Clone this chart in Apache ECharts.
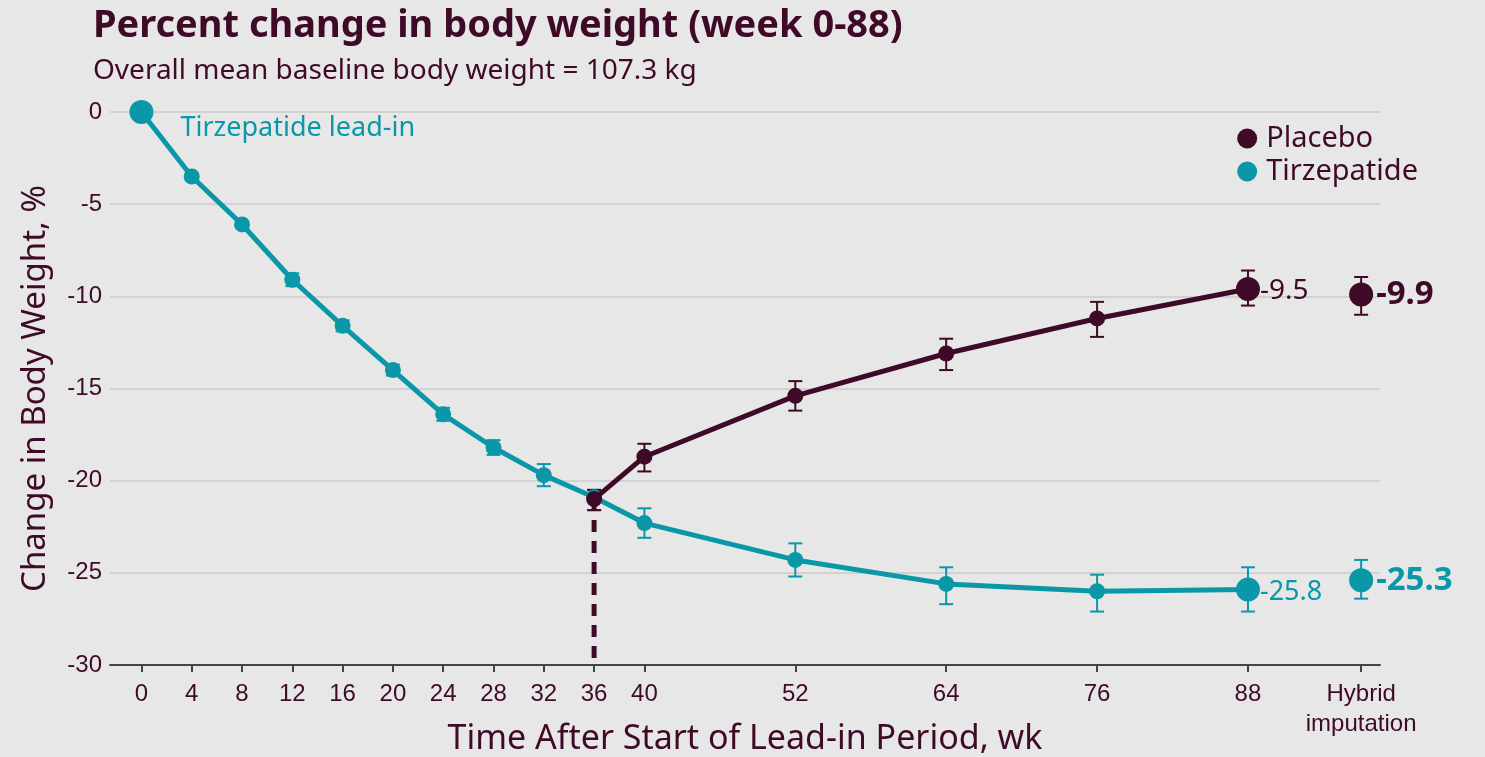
<!DOCTYPE html>
<html>
<head>
<meta charset="utf-8">
<script src="https://cdn.jsdelivr.net/npm/echarts@6/dist/echarts.min.js"></script>
<style>
  html, body { margin: 0; padding: 0; background: #e7e7e7; }
  #chart { width: 1485px; height: 757px; }
</style>
</head>
<body>
<div id="chart"></div>
<script>
// weeks on the x axis; hybrid imputation is drawn at a slot after week 88
const tickWeeks = [0, 4, 8, 12, 16, 20, 24, 28, 32, 36, 40, 52, 64, 76, 88, 97];
const hybridSlot = 97;

const tirzWeeks = [0, 4, 8, 12, 16, 20, 24, 28, 32, 36, 40, 52, 64, 76, 88];
const tirzMean  = [0, -3.5, -6.1, -9.1, -11.6, -14.0, -16.4, -18.2, -19.7, -20.9, -22.3, -24.3, -25.6, -26.0, -25.9];
const tirzLow   = [0, -3.65, -6.25, -9.45, -11.9, -14.3, -16.75, -18.6, -20.3, -21.6, -23.1, -25.2, -26.7, -27.1, -27.1];
const tirzHigh  = [0, -3.35, -5.95, -8.75, -11.3, -13.7, -16.05, -17.8, -19.1, -20.5, -21.5, -23.4, -24.7, -25.1, -24.7];

const placWeeks = [36, 40, 52, 64, 76, 88];
const placMean  = [-21.0, -18.7, -15.4, -13.1, -11.2, -9.6];
const placLow   = [-21.6, -19.5, -16.2, -14.0, -12.2, -10.5];
const placHigh  = [-20.5, -18.0, -14.6, -12.3, -10.3, -8.6];

const hybridTirz = { mean: -25.4, low: -26.4, high: -24.3, label: '-25.3' };
const hybridPlac = { mean: -9.9, low: -11.0, high: -8.95, label: '-9.9' };
const wk88Labels = { tirz: '-25.8', plac: '-9.5' };

const TEAL = '#0a98a8';
const MAROON = '#3f0a28';
const FONT = 'Noto Sans';
const TICKFONT = 'Liberation Sans';

function errorSeries(data, color) {
    return {
        type: 'custom',
        silent: true,
        z: 1,
        renderItem(params, api) {
            const x = api.value(0);
            const lo = api.coord([x, api.value(1)]);
            const hi = api.coord([x, api.value(2)]);
            const half = 7;
            const style = { stroke: color, lineWidth: 2 };
            return {
                type: 'group',
                children: [
                    { type: 'line', shape: { x1: lo[0], y1: lo[1], x2: hi[0], y2: hi[1] }, style },
                    { type: 'line', shape: { x1: lo[0] - half, y1: lo[1], x2: lo[0] + half, y2: lo[1] }, style },
                    { type: 'line', shape: { x1: hi[0] - half, y1: hi[1], x2: hi[0] + half, y2: hi[1] }, style }
                ]
            };
        },
        data: data
    };
}

const chart = echarts.init(document.getElementById('chart'));

const tirzData = tirzWeeks.map((w, i) => [w, tirzMean[i]]);
const placData = placWeeks.map((w, i) => [w, placMean[i]]);

const option = {
    backgroundColor: '#e7e7e7',
    animation: false,
    textStyle: { fontFamily: FONT },
    title: {
        text: 'Percent change in body weight (week 0-88)',
        subtext: 'Overall mean baseline body weight = 107.3 kg',
        left: 88,
        top: 2,
        itemGap: 12,
        textStyle: { fontFamily: FONT, fontSize: 38, fontWeight: 'bold', color: MAROON },
        subtextStyle: { fontFamily: FONT, fontSize: 28, color: MAROON }
    },
    legend: {
        orient: 'vertical',
        right: 62,
        top: 119,
        itemGap: 4,
        itemWidth: 20,
        itemHeight: 20,
        icon: 'circle',
        data: ['Placebo', 'Tirzepatide'],
        textStyle: { fontFamily: FONT, fontSize: 29, color: MAROON, padding: [0, 0, 0, 4] }
    },
    grid: { left: 110, right: 105, top: 112, bottom: 92, outerBoundsMode: 'none' },
    xAxis: {
        type: 'value',
        min: -2.5,
        max: 98.5,
        name: 'Time After Start of Lead-in Period, wk',
        nameLocation: 'middle',
        nameGap: 57,
        nameMoveOverlap: false,
        nameTextStyle: { fontFamily: FONT, fontSize: 34, color: MAROON },
        axisLine: { show: true, onZero: false, lineStyle: { color: '#444', width: 2 } },
        axisTick: { show: true, customValues: tickWeeks, length: 7, lineStyle: { color: '#444', width: 2 } },
        axisLabel: {
            customValues: tickWeeks,
            fontFamily: TICKFONT,
            fontSize: 24,
            color: MAROON,
            margin: 14,
            lineHeight: 30,
            formatter: v => (v === hybridSlot ? 'Hybrid\nimputation' : String(v))
        },
        splitLine: { show: false }
    },
    yAxis: {
        type: 'value',
        min: -30,
        max: 0,
        interval: 5,
        name: 'Change in Body Weight, %',
        nameLocation: 'middle',
        nameGap: 58,
        nameMoveOverlap: false,
        nameTextStyle: { fontFamily: FONT, fontSize: 33, color: MAROON },
        axisLine: { show: false },
        axisTick: { show: false },
        axisLabel: { fontFamily: TICKFONT, fontSize: 24, color: MAROON, margin: 8 },
        splitLine: { show: true, lineStyle: { color: '#d2d2d2', width: 2 } }
    },
    series: [
        {
            name: 'dashed',
            type: 'line',
            data: [[36, placMean[0]], [36, -30]],
            symbol: 'none',
            silent: true,
            z: 1,
            lineStyle: { color: MAROON, width: 5, type: [12, 9] }
        },
        errorSeries(tirzWeeks.map((w, i) => [w, tirzLow[i], tirzHigh[i]]), TEAL),
        errorSeries(placWeeks.map((w, i) => [w, placLow[i], placHigh[i]]), MAROON),
        errorSeries([[hybridSlot, hybridTirz.low, hybridTirz.high]], TEAL),
        errorSeries([[hybridSlot, hybridPlac.low, hybridPlac.high]], MAROON),
        {
            name: 'Tirzepatide',
            type: 'line',
            data: tirzData,
            color: TEAL,
            symbol: 'circle',
            symbolSize: (v, p) => (p.dataIndex === 0 || p.dataIndex === tirzData.length - 1 ? 24 : 16),
            lineStyle: { color: TEAL, width: 5 },
            itemStyle: { color: TEAL },
            z: 3,
            label: {
                show: true,
                position: 'right',
                fontFamily: FONT,
                fontSize: 27,
                color: TEAL,
                distance: 0,
                formatter: p => {
                    if (p.dataIndex === 0) return 'Tirzepatide lead-in';
                    if (p.dataIndex === tirzData.length - 1) return wk88Labels.tirz;
                    return '';
                }
            },
            labelLayout: p => (p.dataIndex === 0 ? { dx: 27, dy: 16 } : { dy: 3 })
        },
        {
            name: 'Placebo',
            type: 'line',
            data: placData,
            color: MAROON,
            symbol: 'circle',
            symbolSize: (v, p) => (p.dataIndex === placData.length - 1 ? 24 : 16),
            lineStyle: { color: MAROON, width: 5 },
            itemStyle: { color: MAROON },
            z: 4,
            label: {
                show: true,
                position: 'right',
                fontFamily: FONT,
                fontSize: 28,
                color: MAROON,
                distance: 0,
                formatter: p => (p.dataIndex === placData.length - 1 ? wk88Labels.plac : '')
            },
            labelLayout: { dy: 2 }
        },
        {
            name: 'Tirzepatide',
            type: 'scatter',
            data: [[hybridSlot, hybridTirz.mean]],
            symbolSize: 24,
            itemStyle: { color: TEAL, opacity: 1 },
            z: 3,
            label: {
                show: true,
                position: 'right',
                distance: 3,
                fontFamily: FONT,
                fontSize: 33,
                fontWeight: 'bold',
                color: TEAL,
                formatter: () => hybridTirz.label
            }
        },
        {
            name: 'Placebo',
            type: 'scatter',
            data: [[hybridSlot, hybridPlac.mean]],
            symbolSize: 24,
            itemStyle: { color: MAROON, opacity: 1 },
            z: 4,
            label: {
                show: true,
                position: 'right',
                distance: 3,
                fontFamily: FONT,
                fontSize: 33,
                fontWeight: 'bold',
                color: MAROON,
                formatter: () => hybridPlac.label
            }
        }
    ]
};

chart.setOption(option);
</script>
</body>
</html>
